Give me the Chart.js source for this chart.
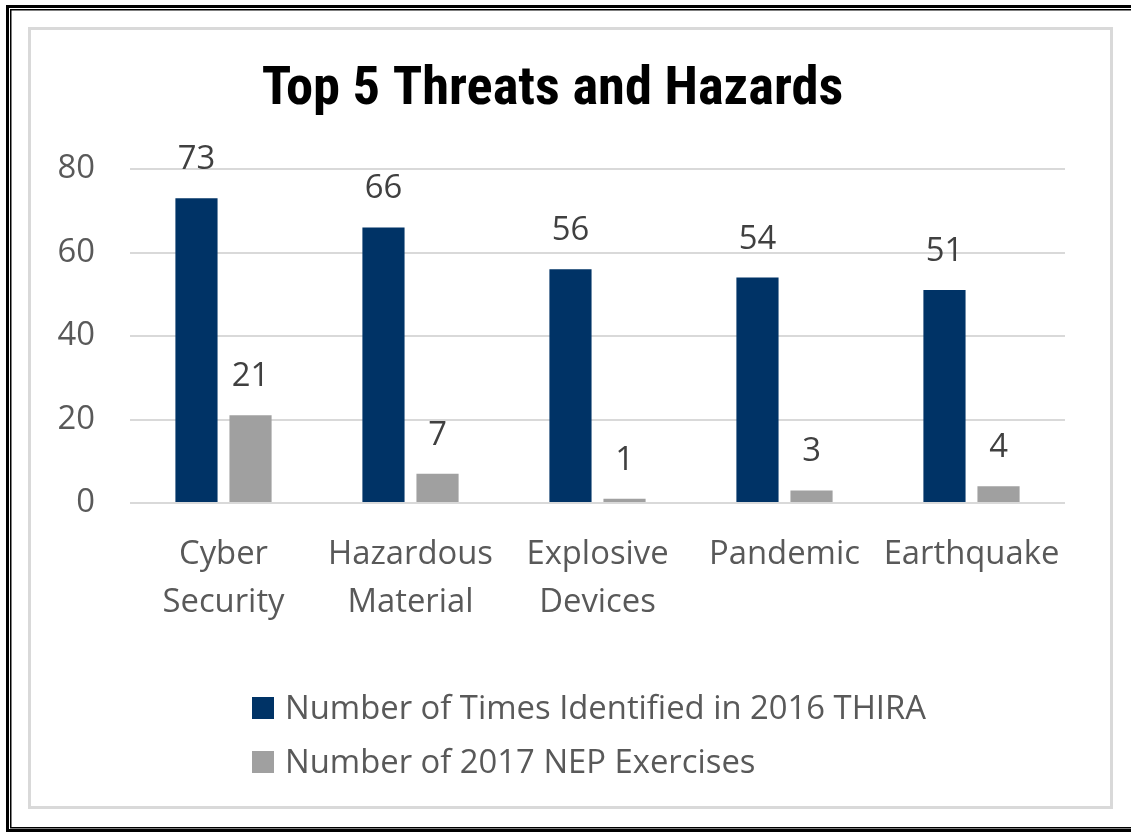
<!DOCTYPE html>
<html>
<head>
<meta charset="utf-8">
<script src="https://cdn.jsdelivr.net/npm/chart.js@4"></script>
<style>
  html, body { margin: 0; padding: 0; background: #ffffff; }
  canvas { display: block; }
</style>
</head>
<body>
<canvas id="c" width="1131" height="833"></canvas>
<script>
const categories = [["Cyber", "Security"], ["Hazardous", "Material"], ["Explosive", "Devices"], "Pandemic", "Earthquake"];
const thira2016 = [73, 66, 56, 54, 51];
const nep2017 = [21, 7, 1, 3, 4];
const seriesNames = ["Number of Times Identified in 2016 THIRA", "Number of 2017 NEP Exercises"];
const seriesColors = ["#003366", "#A0A0A0"];
const yTicks = [0, 20, 40, 60, 80];
const titleText = "Top 5 Threats and Hazards";

const FONT = "'Open Sans', Lato, sans-serif";
const FSIZE = 32.8;
const TEXT_GRAY = "#595959";

const framePlugin = {
  id: 'frame',
  beforeDraw(chart) {
    const ctx = chart.ctx;
    ctx.save();
    ctx.fillStyle = '#ffffff';
    ctx.fillRect(0, 0, chart.width, chart.height);
    ctx.strokeStyle = '#000000';
    ctx.lineWidth = 3;
    ctx.strokeRect(7.5, 6.5, 1140, 824);
    ctx.lineWidth = 1.5;
    ctx.strokeRect(10.75, 9.75, 1140, 818);
    ctx.strokeStyle = '#D9D9D9';
    ctx.lineWidth = 3;
    ctx.strokeRect(29.5, 28.5, 1082, 779);
    ctx.restore();
  }
};

const valueLabelPlugin = {
  id: 'valueLabels',
  afterDatasetsDraw(chart) {
    const ctx = chart.ctx;
    ctx.save();
    ctx.font = FSIZE + "px " + FONT;
    ctx.fillStyle = "#404040";
    ctx.textAlign = 'center';
    ctx.textBaseline = 'alphabetic';
    chart.data.datasets.forEach((ds, di) => {
      const meta = chart.getDatasetMeta(di);
      meta.data.forEach((bar, i) => {
        ctx.fillText(String(ds.data[i]), bar.x, bar.y - 29);
      });
    });
    ctx.restore();
  }
};

const legendPlugin = {
  id: 'customLegend',
  afterDraw(chart) {
    const ctx = chart.ctx;
    ctx.save();
    ctx.font = FSIZE + "px " + FONT;
    ctx.textBaseline = 'middle';
    ctx.textAlign = 'left';
    const rows = [708, 762];
    chart.data.datasets.forEach((ds, i) => {
      const cy = rows[i];
      ctx.fillStyle = ds.backgroundColor;
      ctx.fillRect(252, cy - 11, 22, 22);
      ctx.fillStyle = TEXT_GRAY;
      ctx.fillText(ds.label, 285, cy + 2);
    });
    ctx.restore();
  }
};

new Chart(document.getElementById('c'), {
  type: 'bar',
  data: {
    labels: categories,
    datasets: [
      { label: seriesNames[0], data: thira2016, backgroundColor: seriesColors[0],
        categoryPercentage: 0.578, barPercentage: 0.78 },
      { label: seriesNames[1], data: nep2017, backgroundColor: seriesColors[1],
        categoryPercentage: 0.578, barPercentage: 0.78 }
    ]
  },
  options: {
    responsive: false,
    animation: false,
    layout: { padding: { left: 40, right: 66, top: 40, bottom: 60 } },
    plugins: {
      legend: { display: false },
      tooltip: { enabled: false },
      title: {
        display: true,
        text: titleText,
        color: '#000000',
        font: { family: "'Liberation Sans Narrow', 'Roboto Condensed', 'Arial Narrow', sans-serif", size: 54.5, weight: 'bold', lineHeight: 1.2 },
        padding: { top: 18, bottom: 45.6 }
      }
    },
    scales: {
      x: {
        grid: { display: false, drawTicks: false },
        border: { display: false },
        ticks: {
          color: TEXT_GRAY,
          font: { family: FONT, size: FSIZE, lineHeight: 1.46 },
          padding: 28,
          maxRotation: 0,
          autoSkip: false
        },
        afterFit(scale) { scale.height = 270; }
      },
      y: {
        min: 0,
        max: 80,
        afterBuildTicks(scale) { scale.ticks = yTicks.map(v => ({ value: v })); },
        grid: { color: '#D9D9D9', lineWidth: 2, drawTicks: false },
        border: { display: false },
        ticks: {
          color: TEXT_GRAY,
          font: { family: FONT, size: FSIZE },
          padding: 35
        },
        afterFit(scale) { scale.width = 90; }
      }
    }
  },
  plugins: [framePlugin, valueLabelPlugin, legendPlugin]
});
</script>
</body>
</html>
